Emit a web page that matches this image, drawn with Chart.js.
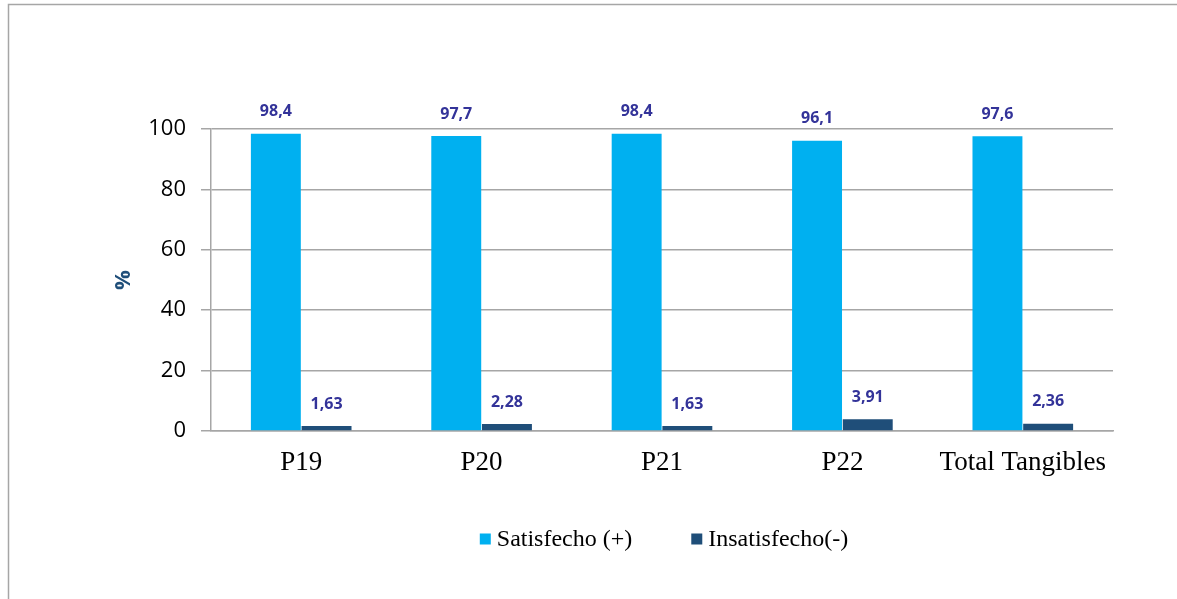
<!DOCTYPE html>
<html>
<head>
<meta charset="utf-8">
<script src="https://cdn.jsdelivr.net/npm/chart.js@4.4.1/dist/chart.umd.min.js"></script>
<style>
  html, body { margin: 0; padding: 0; background: #fff; }
  #wrap { width: 1177px; height: 599px; position: relative; }
  canvas { display: block; }
</style>
</head>
<body>
<div id="wrap"><canvas id="c" width="1177" height="599"></canvas></div>
<script>
// Survey results: share of satisfied vs. unsatisfied answers per item (%)
const categories = ['P19', 'P20', 'P21', 'P22', 'Total Tangibles'];
const satisfecho = [98.4, 97.7, 98.4, 96.1, 97.6];
const insatisfecho = [1.63, 2.28, 1.63, 3.91, 2.36];
const seriesNames = ['Satisfecho (+)', 'Insatisfecho(-)'];
const yTicks = [0, 20, 40, 60, 80, 100];

const COLOR_SAT = '#00B0F0';
const COLOR_INS = '#1F4E79';
const GRID = '#a6a6a6';

// Decimal comma formatting, as used in the labels
const fmt = v => String(v).replace('.', ',');

// Light frame on the top and left edges of the canvas
const framePlugin = {
  id: 'frame',
  beforeDraw(chart) {
    const ctx = chart.ctx;
    ctx.save();
    ctx.fillStyle = '#fff';
    ctx.fillRect(0, 0, chart.width, chart.height);
    ctx.strokeStyle = GRID;
    ctx.lineWidth = 1.5;
    ctx.beginPath();
    ctx.moveTo(chart.width, 4.5);
    ctx.lineTo(8.5, 4.5);
    ctx.lineTo(8.5, chart.height);
    ctx.stroke();
    ctx.restore();
  }
};

// Value labels above each bar
const valueLabels = {
  id: 'valueLabels',
  afterDatasetsDraw(chart) {
    const ctx = chart.ctx;
    ctx.save();
    ctx.font = 'bold 16px "Open Sans", sans-serif';
    ctx.fillStyle = '#333399';
    ctx.textAlign = 'center';
    ctx.textBaseline = 'middle';
    chart.data.datasets.forEach((ds, di) => {
      chart.getDatasetMeta(di).data.forEach((bar, i) => {
        ctx.fillText(fmt(ds.data[i]), bar.x, bar.y - 22);
      });
    });
    ctx.restore();
  }
};

// Legend row under the category labels
const legendRow = {
  id: 'legendRow',
  afterDraw(chart) {
    const ctx = chart.ctx;
    const area = chart.chartArea;
    const box = 11, textGap = 6, itemGap = 59;
    ctx.save();
    ctx.font = '24px "Liberation Serif", "Times New Roman", serif';
    ctx.textBaseline = 'middle';
    ctx.textAlign = 'left';
    const items = chart.data.datasets.map(ds => ({
      text: ds.label, color: ds.backgroundColor,
      w: box + textGap + ctx.measureText(ds.label).width
    }));
    const total = items.reduce((s, it) => s + it.w, 0) + itemGap * (items.length - 1);
    let x = (area.left + area.right) / 2 - total / 2 + 2;
    const y = area.bottom + 109;
    items.forEach(it => {
      ctx.fillStyle = it.color;
      ctx.fillRect(x, y - box / 2 - 1, box, box);
      ctx.fillStyle = '#000';
      ctx.fillText(it.text, x + box + textGap, y);
      x += it.w + itemGap;
    });
    ctx.restore();
  }
};

new Chart(document.getElementById('c'), {
  type: 'bar',
  data: {
    labels: categories,
    datasets: [
      { label: seriesNames[0], data: satisfecho, backgroundColor: COLOR_SAT,
        categoryPercentage: 0.562, barPercentage: 0.985 },
      { label: seriesNames[1], data: insatisfecho, backgroundColor: COLOR_INS,
        categoryPercentage: 0.562, barPercentage: 0.985 }
    ]
  },
  options: {
    responsive: false,
    animation: false,
    devicePixelRatio: 1,
    layout: { padding: { left: 100, right: 64, top: 129, bottom: 0 } },
    plugins: {
      legend: { display: false },
      tooltip: { enabled: false },
      title: { display: false }
    },
    scales: {
      x: {
        grid: { display: false, drawTicks: false },
        border: { display: true, color: GRID, width: 1.5 },
        ticks: {
          color: '#000',
          padding: 16,
          font: { family: '"Liberation Serif", "Times New Roman", serif', size: 27 }
        },
        afterFit(scale) { scale.height = 168; }
      },
      y: {
        min: yTicks[0],
        max: yTicks[yTicks.length - 1],
        afterBuildTicks(scale) { scale.ticks = yTicks.map(v => ({ value: v })); },
        grid: { color: GRID, lineWidth: 1.5, tickLength: 10, drawTicks: true },
        border: { display: true, color: GRID, width: 1.5 },
        ticks: {
          color: '#000',
          padding: 15,
          font: { family: '"Open Sans", sans-serif', size: 22 }
        },
        title: {
          display: true,
          text: '%',
          color: '#1F4E79',
          padding: { top: 11, bottom: 0 },
          font: { family: '"Open Sans", sans-serif', size: 22, weight: 'bold' }
        },
        afterFit(scale) { scale.width = 111; }
      }
    }
  },
  plugins: [framePlugin, valueLabels, legendRow]
});
</script>
</body>
</html>
